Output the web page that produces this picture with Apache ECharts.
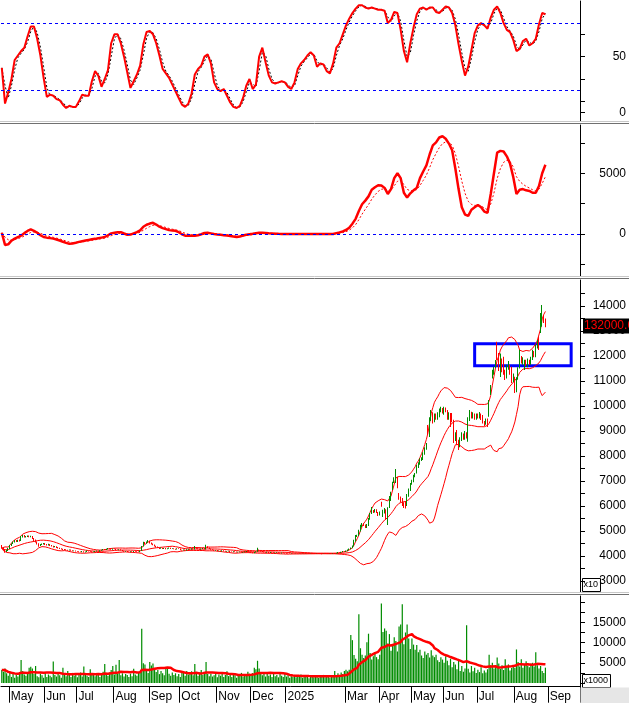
<!DOCTYPE html>
<html><head><meta charset="utf-8">
<script src="https://cdn.jsdelivr.net/npm/echarts@6/dist/echarts.min.js"></script>
<style>html,body{margin:0;padding:0;background:#fff}#c{width:629px;height:703px}</style>
</head><body><div id="c"></div>
<script>
// ---------- data ----------
const startDate = '2024-04-22';
const holidays = ['2024-04-29','2024-04-30','2024-05-01','2024-09-02','2024-09-03','2025-01-01','2025-01-27','2025-01-28','2025-01-29','2025-01-30','2025-01-31','2025-04-07','2025-04-30','2025-05-01','2025-05-02','2025-09-01','2025-09-02'];
const futureSessions = 21;
const monthNames = ['Jan','Feb','Mar','Apr','May','Jun','Jul','Aug','Sep','Oct','Nov','Dec'];
const priceMultiplier = 10;

const open = [
4400,4330,4260,4170,4220,4300,4420,4500,4560,4620,
4580,4640,4620,4760,4820,4760,4780,4800,4770,4790,
4700,4640,4570,4500,4420,4460,4480,4500,4470,4440,
4470,4430,4400,4360,4380,4340,4320,4300,4280,4260,
4250,4240,4230,4250,4220,4200,4210,4190,4180,4170,
4160,4180,4150,4170,4200,4190,4180,4160,4170,4190,
4200,4180,4220,4240,4260,4250,4280,4300,4270,4260,
4290,4280,4250,4240,4260,4230,4200,4180,4190,4170,
4160,4180,4170,4190,4180,4170,4160,4210,4390,4540,
4500,4560,4600,4520,4480,4450,4400,4360,4330,4300,
4320,4290,4310,4280,4300,4320,4290,4300,4280,4270,
4300,4290,4240,4230,4250,4220,4260,4280,4260,4300,
4270,4340,4300,4280,4260,4290,4310,4270,4380,4330,
4290,4260,4240,4220,4230,4200,4210,4190,4220,4200,
4180,4190,4200,4170,4160,4180,4170,4150,4160,4170,
4140,4150,4170,4180,4160,4150,4140,4120,4150,4180,
4250,4200,4190,4170,4150,4140,4160,4130,4150,4140,
4120,4130,4140,4120,4110,4130,4120,4110,4100,4100,
4090,4100,4100,4100,4110,4100,4110,4100,4110,4100,
4110,4100,4100,4110,4100,4100,4090,4100,4100,4100,
4090,4100,4100,4100,4090,4100,4100,4110,4100,4120,
4140,4130,4160,4180,4170,4200,4240,4280,4320,4400,
4600,4780,4820,5000,5200,5300,5250,5150,5250,5500,
5700,5800,5780,5850,5750,5650,6150,5600,5750,5850,
5350,5950,6250,6650,6950,7000,7150,6500,6350,6300,
6100,6150,6050,6450,6650,6900,7000,7200,7350,7600,
7700,7850,7850,8100,8300,9200,8800,9450,9700,9400,
9650,9500,9600,9800,9900,9700,9900,9800,9500,9700,
9600,9400,8700,8950,8600,8400,8650,8850,8700,8900,
8700,9450,9700,9550,9650,9500,9650,9550,9650,9550,
9350,9300,9450,9600,10450,11100,11300,11550,12500,12000,
11300,11850,11900,11400,11150,11500,11600,11500,11000,11150,
10600,11100,11550,11950,11700,11500,11800,11600,11800,11700,
11900,12150,12000,12350,12700,12950,13200,13650,13450];

const close = [
4320,4250,4180,4220,4300,4420,4480,4560,4600,4580,
4620,4600,4780,4820,4760,4780,4800,4770,4790,4700,
4620,4560,4480,4420,4460,4480,4500,4460,4440,4470,
4420,4400,4360,4380,4340,4320,4300,4280,4260,4250,
4240,4230,4250,4220,4200,4210,4190,4180,4170,4160,
4180,4150,4170,4200,4190,4180,4160,4170,4190,4200,
4180,4220,4240,4260,4250,4280,4300,4270,4260,4290,
4280,4250,4240,4260,4230,4200,4180,4190,4170,4160,
4180,4170,4190,4180,4170,4160,4200,4380,4540,4500,
4560,4600,4520,4480,4450,4400,4360,4330,4300,4320,
4290,4310,4280,4300,4320,4290,4300,4280,4270,4300,
4290,4240,4230,4250,4220,4260,4280,4260,4300,4270,
4340,4300,4280,4260,4290,4310,4270,4380,4330,4290,
4260,4240,4220,4230,4200,4210,4190,4220,4200,4180,
4190,4200,4170,4160,4180,4170,4150,4160,4170,4140,
4150,4170,4180,4160,4150,4140,4120,4150,4180,4250,
4200,4190,4170,4150,4140,4160,4130,4150,4140,4120,
4130,4140,4120,4110,4130,4120,4110,4100,4100,4090,
4100,4100,4100,4110,4100,4110,4100,4110,4100,4110,
4100,4100,4110,4100,4100,4090,4100,4100,4100,4090,
4100,4100,4100,4090,4100,4100,4110,4100,4120,4140,
4130,4160,4180,4170,4200,4240,4280,4320,4400,4600,
4780,4820,5000,5200,5300,5250,5150,5250,5500,5700,
5800,5780,5850,5750,5650,5720,6000,5800,5900,5500,
5900,6300,6550,6950,7100,7350,6750,6300,6200,6050,
5950,6000,6450,6650,6900,7000,7200,7300,7600,7700,
7850,7920,8100,8300,8500,8900,9500,9800,9400,9650,
9500,9700,9850,9900,9750,9950,9800,9500,9700,9250,
9400,8700,8900,8500,8350,8700,8850,8700,8950,8750,
9500,9750,9550,9700,9500,9650,9550,9700,9500,9350,
9250,9450,9250,10200,10800,11400,11550,11800,11900,11500,
11900,11400,11300,11100,11600,11700,11300,11000,11200,10600,
11100,11500,12000,11750,11900,11800,11650,11850,11700,11950,
12200,12000,12400,12600,12300,13600,13900,13400,13200];

const high = [
4440,4350,4280,4240,4320,4440,4500,4580,4640,4640,
4650,4660,4800,4840,4840,4800,4820,4820,4810,4800,
4720,4660,4580,4510,4480,4500,4520,4520,4480,4490,
4480,4440,4410,4400,4390,4360,4330,4310,4290,4280,
4270,4250,4260,4260,4230,4220,4220,4200,4190,4180,
4200,4190,4180,4220,4210,4200,4190,4180,4200,4220,
4210,4230,4250,4280,4270,4290,4320,4310,4280,4300,
4300,4290,4260,4270,4270,4240,4210,4200,4200,4180,
4190,4190,4200,4200,4190,4180,4220,4400,4570,4560,
4580,4640,4610,4540,4500,4460,4410,4380,4340,4340,
4330,4320,4320,4310,4340,4330,4310,4310,4290,4310,
4310,4300,4250,4260,4260,4270,4290,4290,4310,4310,
4400,4350,4310,4290,4300,4320,4320,4450,4390,4340,
4300,4270,4250,4240,4240,4220,4220,4230,4230,4210,
4200,4210,4210,4180,4190,4190,4180,4170,4180,4180,
4160,4180,4200,4190,4170,4160,4150,4160,4190,4330,
4260,4210,4200,4180,4160,4170,4170,4160,4160,4150,
4140,4150,4150,4130,4140,4140,4130,4120,4110,4100,
4100,4110,4100,4110,4110,4110,4110,4110,4110,4110,
4110,4100,4110,4110,4100,4100,4100,4110,4100,4100,
4100,4100,4110,4100,4100,4110,4120,4110,4130,4160,
4150,4170,4200,4190,4220,4260,4300,4340,4420,4650,
4840,4850,5050,5250,5320,5320,5260,5280,5520,5720,
5960,5840,5880,5870,5760,5780,6170,5850,5920,5870,
5950,6400,6570,6970,7150,7480,7170,6520,6380,6320,
6150,6200,6480,6700,6920,7050,7250,7320,7650,7750,
7900,7950,8150,8350,8520,9240,9550,9840,9750,9700,
9700,9750,9900,9970,9920,9970,9940,9840,9750,9720,
9720,9450,8950,9040,8650,8750,8950,8900,9000,8950,
9550,9840,9770,9750,9700,9700,9700,9760,9700,9640,
9400,9500,9500,10240,10840,11450,11570,11840,12570,12120,
12100,11900,11970,11450,11650,11800,11650,11570,11300,11170,
11150,11550,12240,12000,11950,11850,11850,11900,11850,11970,
12250,12200,12450,12640,12770,13720,14040,13650,13500];

const low = [
4300,4230,4130,4160,4200,4280,4400,4480,4540,4560,
4560,4580,4600,4740,4740,4740,4760,4750,4750,4680,
4600,4540,4460,4370,4400,4440,4460,4440,4420,4420,
4400,4380,4340,4350,4320,4300,4280,4260,4240,4230,
4230,4210,4220,4210,4190,4190,4180,4170,4150,4150,
4150,4140,4140,4160,4180,4170,4150,4150,4160,4180,
4170,4170,4210,4230,4240,4240,4270,4260,4250,4250,
4270,4240,4230,4230,4220,4190,4170,4170,4160,4150,
4150,4160,4160,4170,4160,4150,4150,4200,4380,4480,
4490,4540,4500,4460,4430,4380,4340,4320,4280,4290,
4280,4280,4270,4270,4290,4280,4280,4270,4250,4260,
4280,4230,4220,4220,4210,4210,4250,4250,4250,4260,
4260,4290,4270,4250,4250,4280,4260,4260,4320,4280,
4250,4230,4210,4210,4190,4190,4180,4180,4190,4170,
4170,4180,4160,4150,4150,4160,4140,4140,4150,4130,
4130,4140,4160,4150,4140,4130,4110,4110,4140,4170,
4190,4180,4160,4140,4130,4130,4120,4120,4130,4110,
4110,4120,4110,4100,4100,4110,4100,4090,4090,4080,
4080,4090,4090,4100,4100,4100,4100,4100,4100,4100,
4100,4090,4100,4100,4090,4080,4090,4100,4090,4070,
4090,4090,4100,4080,4090,4090,4100,4100,4100,4110,
4120,4120,4150,4160,4160,4190,4230,4270,4310,4390,
4570,4760,4800,4980,5150,5200,5120,5120,5200,5450,
5680,5720,5740,5720,5600,5620,5970,5560,5700,5450,
5240,5920,6200,6640,6920,6920,6710,6250,6150,6000,
5920,5900,6000,6370,6600,6850,6950,7150,7300,7520,
7650,7800,7840,8050,8250,8840,8760,9400,9300,9350,
9450,9450,9550,9750,9700,9650,9750,9450,9450,9160,
9350,8520,8600,8450,8240,8350,8600,8650,8650,8700,
8570,9400,9500,9500,9450,9450,9500,9500,9440,9300,
9200,9250,9160,9570,10440,11100,11250,11520,11840,11400,
11160,11350,11250,11040,11100,11450,11250,10920,10950,10520,
10550,11050,11500,11700,11650,11440,11600,11550,11650,11650,
11840,11950,11950,12300,12240,12920,13170,13320,13150];

const volume = [
3200,2800,3600,2400,1800,2600,1500,2200,1300,2000,
1600,2400,5700,3000,2100,1800,2500,3800,4000,3600,
2200,4200,1700,1400,2300,1900,1300,2600,1500,2100,
1800,1400,5300,2000,1600,2400,1900,1300,3800,2200,
1700,3000,2100,1500,2500,1800,2300,1400,2000,2600,
1600,4100,2200,1800,1500,3400,2000,2400,1700,2100,
2500,1500,2000,2800,4700,2200,1800,2600,3200,4200,
2100,4500,2300,5700,1900,2400,1600,2200,2000,1500,
2300,1700,3500,2100,1800,2600,2900,13400,4900,4600,
3000,2500,5200,4300,4800,3500,2700,3200,2200,3000,
2400,1900,3800,3600,2300,1800,2600,2000,2400,1700,
2200,1500,2500,2900,1800,3000,2100,2500,2900,1900,
4700,2300,1800,2600,3200,2000,2400,5200,2200,1700,
2300,1600,1900,2500,1400,2100,1800,2600,1500,2000,
2900,1700,2200,1500,2400,1900,1300,2100,1800,2500,
1600,2200,1900,2800,2300,1800,2500,3800,3400,5500,
3600,2400,1900,2200,1600,2500,1800,2100,1500,2300,
1700,2000,1400,2600,1800,1500,2200,1600,1900,1300,
1700,1500,2000,1400,1800,1600,2100,1300,1900,1500,
1800,1200,1700,2000,1400,1600,1900,1300,1700,1500,
2000,1400,1800,1600,1300,1900,1500,3000,2000,2400,
1800,2600,2200,3000,3300,2900,3300,11900,10600,6900,
6000,5400,17000,8600,7000,6200,6800,10100,12200,7400,
5800,6600,7200,6400,5900,7000,19700,12600,13500,12900,
9800,12100,8000,9200,11300,10400,7800,14000,14500,19500,
9600,12500,14500,11000,8400,11000,9500,8200,9400,7600,
8200,6800,6200,7800,7000,7400,6300,8100,6800,6400,
7000,5600,5200,6400,5800,5000,6600,5500,4400,6000,
3900,5200,4600,3400,5500,3000,4200,2800,3600,14300,
3500,2600,4200,2900,3800,2500,3300,2700,3900,2400,
3100,2600,3400,7000,4400,5000,3600,4200,6300,4800,
3500,4400,3200,5900,3900,4600,3100,3700,4300,3800,
8300,5200,4100,5900,3800,4600,5400,4200,3900,4800,
5000,4100,7600,4400,3600,4200,3000,2500,3800];

// oscillators read every 2nd session
const sampleStep = 2;
const stochK = [
40,8,18,30,47,51,55,58,68,77,
77,66,51,31,14,16,15,12,11,7,
4,6,5,5,10,16,15,15,28,37,
33,23,30,38,62,70,70,62,50,36,
22,28,34,42,61,72,73,70,62,51,
39,35,31,25,19,13,7,5,8,17,
34,39,42,50,52,44,27,21,19,21,
15,9,5,4,6,13,24,30,21,25,
50,58,45,33,27,26,27,28,27,23,
21,27,39,44,47,51,54,51,41,44,
43,37,35,44,58,62,70,78,84,89,
93,96,96,94,93,94,93,92,92,91,
80,83,90,89,74,55,45,62,76,88,
93,94,92,94,94,90,89,92,95,94,
89,78,61,46,33,41,56,71,78,80,
78,75,85,92,95,89,80,74,72,65,
55,57,64,66,60,62,66,79,89,88];
const macd = [
100,-900,-850,-550,-380,-250,-130,70,250,380,
260,100,-100,-250,-300,-340,-380,-450,-540,-640,
-730,-810,-780,-720,-650,-590,-540,-490,-440,-400,
-350,-300,-250,-100,50,110,150,150,40,-60,
-50,50,150,300,600,760,860,920,780,600,
480,400,320,290,260,150,-20,-140,-150,-150,
-140,-100,-20,80,100,50,0,-40,-70,-100,
-130,-160,-210,-250,-200,-120,-60,-20,20,70,
110,100,80,60,50,30,15,5,0,0,
0,0,0,0,0,0,0,0,0,0,
0,0,0,0,70,130,220,330,520,850,
1250,1900,2450,2750,3100,3650,3850,4020,4000,3800,
3300,3700,4600,5000,4600,3400,3000,3350,3600,3800,
4600,5150,5650,6550,7300,7550,7950,8050,7850,7450,
6900,5400,3700,2200,1600,1500,2000,2200,2390,2200,
1850,1750,3300,5000,6700,6850,6800,6400,5800,4700,
3300,3650,3700,3600,3550,3400,3400,3950,5000,5700];

const stochLevels = [20, 80];
const zone = {from: '2025-06-27', to: '2025-09-23', low: 11610, high: 12490};

// tick / label values of the right axes
const stochLabels = [0, 50], stochTicks = [0, 10, 30, 50, 70, 100];
const macdLabels = [0, 5000], macdTicks = [-2500, 0, 2500, 5000, 7500];
const priceLabels = [3000,4000,5000,6000,7000,8000,9000,10000,11000,12000,13000,14000];
const priceTicks = [3000,3500,4000,4500,5000,5500,6000,6500,7000,7500,8000,8500,9000,9500,10000,10500,11000,11500,12000,12500,13000,13500,14000,14500];
const volLabels = [5000, 10000, 15000], volTicks = [0, 2500, 5000, 7500, 10000, 12500, 15000, 17500, 20000];

// ---------- derived ----------
const sessions = [];
{
  const d = new Date(startDate + 'T00:00:00Z');
  while (sessions.length < close.length + futureSessions) {
    const wd = d.getUTCDay(); const s = d.toISOString().slice(0, 10);
    if (wd !== 0 && wd !== 6 && holidays.indexOf(s) < 0) sessions.push(s);
    d.setUTCDate(d.getUTCDate() + 1);
  }
}
const minLabelGap = 18;
const showMonth = sessions.map(() => false);
{
  let last = -100;
  for (let i = 1; i < sessions.length; i++) {
    if (sessions[i].slice(5, 7) !== sessions[i - 1].slice(5, 7) && i - last >= minLabelGap) { showMonth[i] = true; last = i; }
  }
}
const monthLabel = v => v.slice(5, 7) === '01' ? v.slice(0, 4) : monthNames[+v.slice(5, 7) - 1];

function rolling(arr, n) {
  const mean = [], sd = [];
  for (let i = 0; i < arr.length; i++) {
    const s = Math.max(0, i - n + 1); let sum = 0;
    for (let j = s; j <= i; j++) sum += arr[j];
    const m = sum / (i - s + 1); let v = 0;
    for (let j = s; j <= i; j++) v += (arr[j] - m) * (arr[j] - m);
    mean.push(m); sd.push(Math.sqrt(v / (i - s + 1)));
  }
  return {mean, sd};
}
const bb = rolling(close, 20);
const bbMid = bb.mean, bbUp = bb.mean.map((m, i) => m + 2 * bb.sd[i]), bbLow = bb.mean.map((m, i) => m - 2 * bb.sd[i]);
const volMA = rolling(volume, 20).mean;

const stochD = stochK.map((v, k) => k === 0 ? v : (stochK[k - 1] + v) / 2);
const macdSignal = [];
macd.forEach((v, k) => macdSignal.push(k === 0 ? v : macdSignal[k - 1] + 0.36 * (v - macdSignal[k - 1])));
function spread(samples) {
  const out = new Array(close.length).fill(null);
  samples.forEach((v, k) => { out[k * sampleStep] = v; });
  return out;
}
const candles = close.map((c, i) => [open[i], c, low[i], high[i]]);

// ---------- chart ----------
const FONT = '"Liberation Sans", Arial, sans-serif';
const GREEN = '#008c00', RED = '#ff0000';
function yAx(g, min, max, labels, ticks) {
  return {type: 'value', gridIndex: g, position: 'right', min, max,
    splitLine: {show: false},
    axisLine: {show: true, lineStyle: {color: '#000', width: 1}},
    axisTick: {show: true, length: 5, inside: false, customValues: ticks, lineStyle: {color: '#000'}},
    axisLabel: {show: true, customValues: labels, formatter: v => String(v), align: 'right', margin: 46,
      fontSize: 12, fontFamily: FONT, color: '#000'}};
}
function xAx(g, visible) {
  const a = {type: 'category', gridIndex: g, data: sessions, boundaryGap: true};
  if (!visible) { a.show = false; return a; }
  return Object.assign(a, {
    axisLine: {show: true, onZero: false, lineStyle: {color: '#000', width: 1}},
    axisTick: {show: true, interval: i => showMonth[i], length: 16, inside: false, lineStyle: {color: '#000'}},
    axisLabel: {show: true, interval: i => showMonth[i], formatter: v => monthLabel(v), align: 'left', margin: 4,
      padding: [0, 0, 0, 1], fontSize: 12, fontFamily: FONT, color: '#000'}
  });
}
const gridBase = {left: 1, right: 49, containLabel: false, outerBoundsMode: 'none'};
const chart = echarts.init(document.getElementById('c'), null, {renderer: 'canvas'});
const sepLine = (y, c) => ({type: 'line', shape: {x1: 0, y1: y, x2: 629, y2: y}, style: {stroke: c, lineWidth: 1}, z: 50});
const boxText = (x, y, w, h, t) => ({type: 'group', z: 60, children: [
  {type: 'rect', shape: {x, y, width: w, height: h}, style: {fill: '#fff', stroke: '#000', lineWidth: 1}},
  {type: 'text', x: x + 1, y: y + h / 2, style: {text: t, fontSize: 9, fontFamily: FONT, fill: '#000', verticalAlign: 'middle'}}]});

chart.setOption({
  animation: false,
  backgroundColor: '#fff',
  grid: [
    Object.assign({top: 1, height: 120}, gridBase),
    Object.assign({top: 125, height: 151}, gridBase),
    Object.assign({top: 280, height: 312}, gridBase),
    Object.assign({top: 596, bottom: 16.3}, gridBase)
  ],
  xAxis: [xAx(0, false), xAx(1, false), xAx(2, false), xAx(3, true)],
  yAxis: [
    yAx(0, -7.6, 99.8, stochLabels, stochTicks),
    yAx(1, -3460, 8980, macdLabels, macdTicks),
    yAx(2, 2560, 15040, priceLabels, priceTicks),
    yAx(3, -916, 21530, volLabels, volTicks)
  ],
  series: [
    {type: 'line', name: '%D', xAxisIndex: 0, yAxisIndex: 0, data: spread(stochD), connectNulls: true, showSymbol: false,
      lineStyle: {color: '#000', width: 1, type: [2, 2]}, z: 2},
    {type: 'line', name: '%K', xAxisIndex: 0, yAxisIndex: 0, data: spread(stochK), connectNulls: true, showSymbol: false,
      lineStyle: {color: RED, width: 2}, z: 3,
      markLine: {silent: true, symbol: ['none', 'none'], label: {show: false}, lineStyle: {color: '#0000ff', width: 1, type: [3, 3]},
        data: stochLevels.map(v => ({yAxis: v}))}},
    {type: 'line', name: 'Signal', xAxisIndex: 1, yAxisIndex: 1, data: spread(macdSignal), connectNulls: true, showSymbol: false,
      lineStyle: {color: RED, width: 1, type: [2, 2]}, z: 2},
    {type: 'line', name: 'MACD', xAxisIndex: 1, yAxisIndex: 1, data: spread(macd), connectNulls: true, showSymbol: false,
      lineStyle: {color: RED, width: 2.5}, z: 3,
      markLine: {silent: true, symbol: ['none', 'none'], label: {show: false}, lineStyle: {color: '#0000ff', width: 1, type: [3, 3]},
        data: [{yAxis: 0}]}},
    {type: 'line', name: 'BB up', xAxisIndex: 2, yAxisIndex: 2, data: bbUp, showSymbol: false, lineStyle: {color: RED, width: 1}, z: 2},
    {type: 'line', name: 'BB mid', xAxisIndex: 2, yAxisIndex: 2, data: bbMid, showSymbol: false, lineStyle: {color: RED, width: 1}, z: 2},
    {type: 'line', name: 'BB low', xAxisIndex: 2, yAxisIndex: 2, data: bbLow, showSymbol: false, lineStyle: {color: RED, width: 1}, z: 2},
    {type: 'candlestick', name: 'Price', xAxisIndex: 2, yAxisIndex: 2, data: candles, barWidth: 1, z: 3,
      itemStyle: {color: GREEN, color0: RED, borderColor: GREEN, borderColor0: RED, borderColorDoji: RED, borderWidth: 1},
      markLine: {silent: true, symbol: ['none', 'none'], lineStyle: {width: 0, color: 'rgba(0,0,0,0)'},
        label: {show: true, position: 'end', distance: 3, formatter: (close[close.length - 1] * priceMultiplier).toFixed(1),
          backgroundColor: '#000', color: RED, fontSize: 12, fontFamily: FONT, padding: [2, 2, 1, 1]},
        data: [{yAxis: close[close.length - 1]}]},
      markArea: {silent: true, itemStyle: {color: 'rgba(0,0,0,0)', borderColor: '#0000ff', borderWidth: 3},
        data: [[{xAxis: zone.from, yAxis: zone.high}, {xAxis: zone.to, yAxis: zone.low}]]}},
    {type: 'bar', name: 'Volume', xAxisIndex: 3, yAxisIndex: 3, data: volume, barCategoryGap: '25%', itemStyle: {color: GREEN}, z: 2},
    {type: 'line', name: 'Vol MA', xAxisIndex: 3, yAxisIndex: 3, data: volMA, showSymbol: false, lineStyle: {color: RED, width: 2.5}, z: 3}
  ],
  graphic: [
    sepLine(121.5, '#c8c8c8'), sepLine(123.5, '#707070'),
    sepLine(276.5, '#c8c8c8'), sepLine(278.5, '#707070'),
    sepLine(592.5, '#c8c8c8'), sepLine(594.5, '#707070'),
    {type: 'rect', shape: {x: 580.5, y: 687.5, width: 49, height: 16}, style: {fill: '#e6e6e6'}, z: 40},
    boxText(582.5, 578.5, 18, 13, 'x10'),
    boxText(582.5, 674.5, 28, 13, 'x1000')
  ]
});
</script>
</body></html>
